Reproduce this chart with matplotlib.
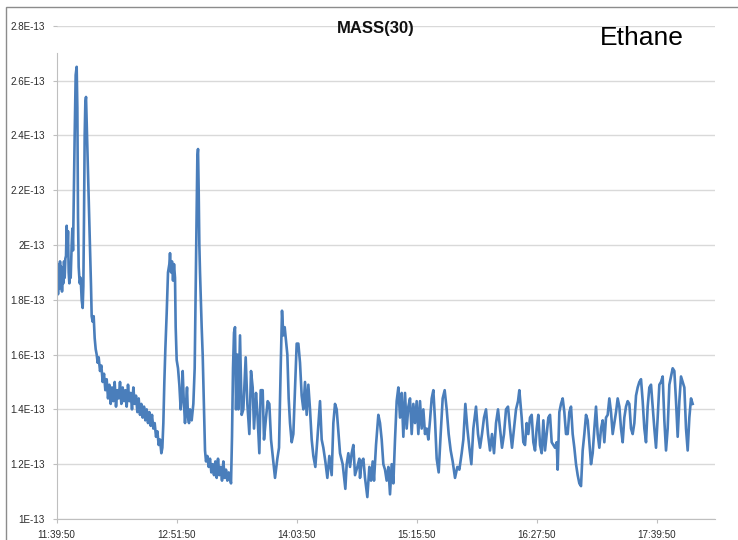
import numpy as np
import matplotlib.pyplot as plt
from matplotlib.patches import Rectangle

# elapsed minutes after 11:39:50
minutes = [
    0, 0.4, 0.8, 1.2, 1.6, 2.0, 2.4, 2.8, 3.2, 3.6, 4.0, 4.4, 4.8, 5.2,
    5.6, 6.0, 6.4, 6.8, 7.2, 7.6, 8.0, 8.4, 9.0, 9.4, 9.8, 10.2, 10.8, 11.4,
    12.0, 12.4, 12.8, 13.2, 13.8, 14.4, 15.0, 15.6, 16.0, 16.4, 16.8, 17.2, 17.6, 18.0,
    18.6, 19.4, 20.0, 20.6, 21.0, 21.6, 22.2, 22.8, 23.4, 24.0, 24.6, 25.2, 26.0, 26.8,
    27.6, 28.4, 29.2, 30.0, 30.8, 31.6, 32.4, 33.2, 34.0, 34.8, 35.6, 36.4, 37.2,
    38.0, 38.8, 39.6, 40.4, 41.2, 42.0, 42.8, 43.6, 44.4, 45.2, 46.0, 46.8, 47.6,
    48.4, 49.2, 50.0, 50.8, 51.6, 52.4, 53.2, 54.0, 54.8, 55.6, 56.4, 57.2, 58.0,
    58.8, 59.6, 60.4, 61.2, 62.0, 62.8, 63.4, 64.0, 64.6, 65.2, 66.0, 66.8, 67.6,
    68.0, 68.6, 69.2, 69.8, 70.4, 71.0, 71.4, 72.0, 72.8, 73.6, 74.4, 75.2, 75.6,
    76.2, 77.0, 77.6, 78.2, 78.8, 79.4, 80.0, 81.0, 82.0, 82.8, 83.4, 84.0, 84.4,
    84.8, 85.2, 85.6, 86.0, 87.0, 87.6, 88.4, 89.0, 89.6, 90.4, 91.2, 92.0, 92.8,
    93.6, 94.4, 95.2, 96.0, 96.8, 97.6, 98.4, 99.2, 100.0, 100.8, 101.6, 102.4, 103.2,
    104.0, 104.6, 105.2, 105.8, 106.4, 107.0, 107.6, 108.4, 109.0, 110.0, 111.0, 112.0, 113.4,
    114.4, 115.6, 116.6, 117.6, 118.4, 119.6, 120.4, 121.6, 122.4, 123.6, 124.4, 125.6, 126.6,
    127.6, 128.6, 130.0, 131.0, 132.4, 133.4, 134.4, 135.2, 136.0, 136.8, 137.6, 138.4, 139.2,
    140.0, 141.0, 142.0, 143.0, 144.0, 145.0, 146.0, 147.0, 148.0, 149.0, 150.0, 151.0, 152.0,
    153.0, 154.0, 155.2, 156.4, 158.0, 159.0, 160.0, 161.2, 162.4, 163.6, 165.0, 166.0, 167.0,
    168.0, 169.0, 170.0, 171.6, 173.2, 174.0, 175.0, 176.0, 177.0, 178.0, 179.0, 180.4, 181.6,
    182.0, 183.0, 184.0, 185.0, 186.4, 187.6, 188.6, 189.6, 190.4, 191.6, 193.0, 194.0, 195.0,
    196, 197, 198, 199, 200, 201, 202, 203, 204, 205, 206, 207, 208,
    209, 210, 211, 212, 213, 214, 215, 216, 217, 218, 219, 220, 221,
    222, 223, 224, 225, 226, 227, 228, 229.2, 230.4, 231.6, 232.8, 234.0, 235.2,
    236.4, 237.6, 239.0, 240.4, 241.6, 243.0, 244.0, 245.2, 246.4, 247.6, 248.8, 250.0, 251.6,
    252.8, 254.0, 255.2, 256.4, 257.6, 258.8, 260.0, 261.2, 262.4, 263.6, 264.8, 266.0, 267.2,
    268.4, 269.6, 270.8, 272.0, 273.2, 274.4, 275.6, 276.8, 277.6, 279, 280, 281, 282,
    283, 284, 285, 286, 287, 288, 289, 290, 291, 292, 293, 294, 295,
    296, 297, 298, 299, 300, 300.6, 301.6, 302.6, 303.6, 304.6, 305.6, 306.6, 307.6,
    308.6, 309.6, 310.6, 311.6, 312.6, 313.6, 314.6, 315.6, 316.6, 317.6, 318.6, 319.6, 320.6,
    321.6, 322.6, 323.6, 324.6, 325.6, 326.6, 327.6, 328.6, 329.6, 330.6, 331.6, 332.6, 333.6,
    334.6, 335.6, 336.6, 337.6, 338.6, 339.6, 340.6, 341.6, 342.6, 343.6, 344.6, 345.6, 346.6,
    347.6, 348.6, 349.6, 350.6, 351.6, 352.6, 353.6, 354.6, 355.6, 356.6, 357.6, 358.6, 359.6,
    360.6, 361.6, 362.6, 363.6, 364.6, 365.6, 366.6, 367.6, 368.6, 369.6, 370.6, 371.6, 372.6,
    373.6, 374.6, 375.6, 376.6, 377.6, 378.6, 379.6, 380.6, 381.6,
]

# ion current, units of 1E-13
mass30 = [
    1.88, 1.93, 1.82, 1.92, 1.84, 1.94, 1.85, 1.92, 1.83, 1.90, 1.86, 1.94, 1.88, 1.95,
    1.96, 2.07, 1.98, 2.05, 1.90, 1.86, 1.92, 1.88, 2.00, 2.06, 1.98, 2.15, 2.40, 2.62,
    2.65, 2.50, 2.10, 1.92, 1.86, 1.88, 1.80, 1.77, 1.85, 2.10, 2.40, 2.52, 2.54, 2.45,
    2.30, 2.12, 2.00, 1.85, 1.74, 1.72, 1.74, 1.66, 1.62, 1.60, 1.57, 1.59, 1.54, 1.56,
    1.50, 1.53, 1.47, 1.51, 1.44, 1.49, 1.42, 1.48, 1.43, 1.50, 1.41, 1.47, 1.44,
    1.50, 1.42, 1.48, 1.43, 1.47, 1.41, 1.49, 1.43, 1.46, 1.40, 1.48, 1.42, 1.45,
    1.39, 1.44, 1.38, 1.42, 1.37, 1.41, 1.36, 1.40, 1.35, 1.39, 1.34, 1.38, 1.33,
    1.35, 1.30, 1.32, 1.27, 1.29, 1.24, 1.26, 1.35, 1.50, 1.62, 1.75, 1.90, 1.93,
    1.97, 1.90, 1.94, 1.87, 1.93, 1.88, 1.70, 1.58, 1.55, 1.49, 1.40, 1.46, 1.54,
    1.44, 1.35, 1.42, 1.48, 1.37, 1.35, 1.40, 1.36, 1.42, 1.55, 1.85, 2.15, 2.32,
    2.35, 2.20, 2.00, 1.90, 1.70, 1.60, 1.40, 1.25, 1.21, 1.23, 1.19, 1.22, 1.17,
    1.20, 1.16, 1.21, 1.15, 1.22, 1.16, 1.19, 1.14, 1.21, 1.15, 1.18, 1.14, 1.17,
    1.15, 1.13, 1.30, 1.55, 1.68, 1.70, 1.40, 1.60, 1.40, 1.67, 1.38, 1.40, 1.59,
    1.42, 1.31, 1.54, 1.48, 1.33, 1.46, 1.39, 1.24, 1.47, 1.47, 1.29, 1.37, 1.43,
    1.42, 1.29, 1.21, 1.15, 1.22, 1.26, 1.55, 1.76, 1.67, 1.70, 1.65, 1.60, 1.44,
    1.35, 1.28, 1.31, 1.48, 1.64, 1.64, 1.57, 1.45, 1.40, 1.50, 1.38, 1.49, 1.40,
    1.29, 1.23, 1.19, 1.29, 1.43, 1.29, 1.26, 1.21, 1.15, 1.23, 1.16, 1.35, 1.42,
    1.40, 1.32, 1.24, 1.20, 1.11, 1.20, 1.24, 1.19, 1.24, 1.27, 1.16, 1.19, 1.22,
    1.15, 1.21, 1.22, 1.15, 1.08, 1.19, 1.14, 1.21, 1.14, 1.27, 1.38, 1.35, 1.29,
    1.20, 1.18, 1.14, 1.19, 1.09, 1.20, 1.13, 1.29, 1.43, 1.48, 1.37, 1.46, 1.30,
    1.46, 1.33, 1.41, 1.44, 1.31, 1.42, 1.35, 1.43, 1.31, 1.43, 1.33, 1.40, 1.31,
    1.33, 1.29, 1.36, 1.44, 1.47, 1.36, 1.22, 1.17, 1.31, 1.44, 1.47, 1.40, 1.31,
    1.25, 1.21, 1.15, 1.19, 1.18, 1.24, 1.29, 1.42, 1.33, 1.26, 1.20, 1.33, 1.41,
    1.31, 1.26, 1.31, 1.37, 1.40, 1.31, 1.25, 1.31, 1.24, 1.35, 1.40, 1.33, 1.26,
    1.31, 1.40, 1.41, 1.33, 1.26, 1.33, 1.40, 1.43, 1.47, 1.37, 1.28, 1.27, 1.35,
    1.31, 1.37, 1.38, 1.28, 1.25, 1.33, 1.38, 1.27, 1.24, 1.36, 1.25, 1.31, 1.37,
    1.38, 1.28, 1.27, 1.26, 1.28, 1.18, 1.39, 1.42, 1.44, 1.39, 1.31, 1.31, 1.39,
    1.41, 1.31, 1.26, 1.20, 1.16, 1.13, 1.12, 1.25, 1.31, 1.38, 1.36, 1.28, 1.20,
    1.24, 1.33, 1.41, 1.31, 1.26, 1.33, 1.36, 1.28, 1.37, 1.38, 1.44, 1.39, 1.31,
    1.35, 1.39, 1.44, 1.41, 1.33, 1.28, 1.37, 1.41, 1.43, 1.42, 1.33, 1.31, 1.35,
    1.45, 1.48, 1.50, 1.51, 1.43, 1.33, 1.28, 1.41, 1.48, 1.49, 1.41, 1.33, 1.26,
    1.37, 1.49, 1.50, 1.52, 1.36, 1.25, 1.33, 1.49, 1.52, 1.55, 1.54, 1.43, 1.30,
    1.43, 1.52, 1.50, 1.48, 1.33, 1.25, 1.37, 1.44, 1.42,
]

time_ticks = [0, 72, 144, 216, 288, 360]
time_labels = ['11:39:50', '12:51:50', '14:03:50', '15:15:50', '16:27:50', '17:39:50']
y_ticks = [1.0, 1.2, 1.4, 1.6, 1.8, 2.0, 2.2, 2.4, 2.6, 2.8]
y_labels = ['1E-13', '1.2E-13', '1.4E-13', '1.6E-13', '1.8E-13', '2E-13',
            '2.2E-13', '2.4E-13', '2.6E-13', '2.8E-13']

plt.rcParams['font.family'] = ['Liberation Sans', 'DejaVu Sans']

fig = plt.figure(figsize=(7.38, 5.40), dpi=100)
ax = fig.add_axes([0.0768, 0.0389, 0.8916, 0.9135])

ax.plot(minutes, np.array(mass30) * 1e-13, color='#4A7EBB', lw=1.9)

ax.set_xlim(0, 394.8)
ax.set_ylim(1e-13, 2.8e-13)
ax.set_xticks(time_ticks)
ax.set_xticklabels(time_labels)
ax.set_yticks(np.array(y_ticks) * 1e-13)
ax.set_yticklabels(y_labels)

ax.grid(axis='y', color='#d9d9d9', lw=1)
ax.set_axisbelow(True)
for s in ['top', 'right']:
    ax.spines[s].set_visible(False)
ax.spines['left'].set_color('#bfbfbf')
ax.spines['bottom'].set_color('#bfbfbf')
ax.spines['left'].set_bounds(1e-13, 2.7e-13)
ax.tick_params(axis='y', length=3, color='#bfbfbf', labelsize=7.1, labelcolor='#2b2b2b', pad=5.5)
ax.tick_params(axis='x', length=3, color='#bfbfbf', labelsize=7.1, labelcolor='#2b2b2b', pad=5)

fig.text(376 / 738, 1 - 28 / 540, 'MASS(30)', ha='center', va='center',
         fontsize=12, fontweight='bold', color='#111111')
fig.text(642 / 738, 1 - 38 / 540, 'Ethane', ha='center', va='center',
         fontsize=19, color='black')

# chart frame (only top and left edges fall inside the image)
fig.add_artist(Rectangle((6 / 738, -0.1), 1.2, 1.1 - 7 / 540, transform=fig.transFigure,
                         fill=False, edgecolor='#8c8c8c', lw=1))

fig.savefig('out.png', dpi=100)
